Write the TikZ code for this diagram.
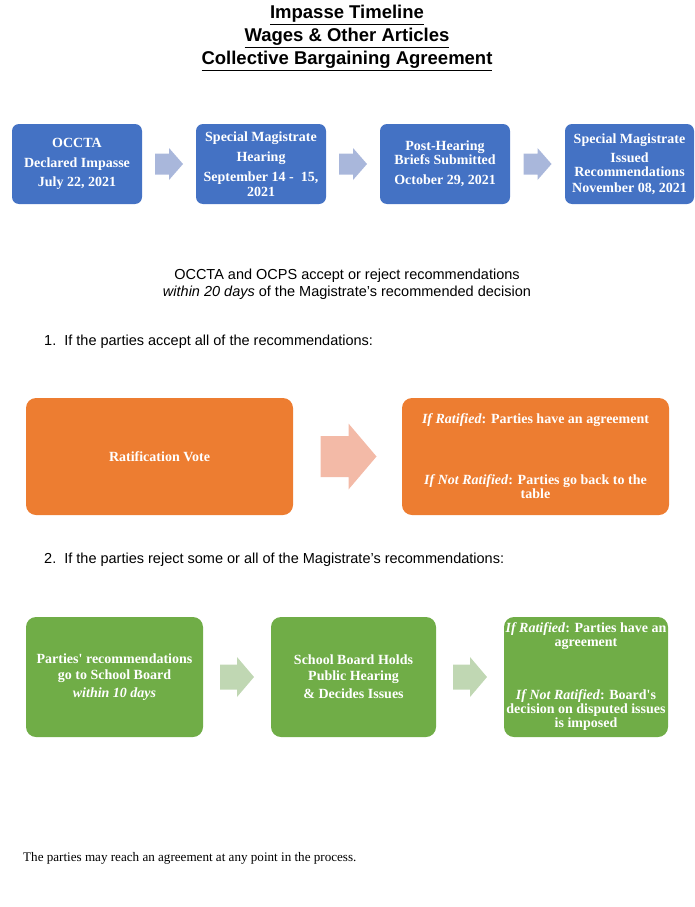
\documentclass[tikz,border=0pt]{standalone}
\usepackage{fontspec}
\setmainfont{Liberation Serif}
\newfontfamily\arialf{Liberation Sans}
\usetikzlibrary{calc}
\definecolor{oblue}{HTML}{4472C4}
\definecolor{oorange}{HTML}{ED7D31}
\definecolor{ogreen}{HTML}{70AD47}
\definecolor{lblue}{HTML}{A9B7DB}
\definecolor{lorange}{HTML}{F3BAA7}
\definecolor{lgreen}{HTML}{C0D7B3}
\begin{document}
\begin{tikzpicture}[x=1pt,y=-1pt,
  boxbase/.style={rounded corners=7pt, inner sep=0pt, align=center, text=white,
    font=\fontsize{14}{14}\selectfont\bfseries},
  bluebox/.style={boxbase, fill=oblue, minimum width=130pt, minimum height=80pt},
  orangebox/.style={boxbase, fill=oorange, rounded corners=10pt, minimum width=267pt, minimum height=117pt},
  greenbox/.style={boxbase, fill=ogreen, rounded corners=10pt, minimum height=120pt},
  titletext/.style={font=\arialf\fontsize{18.5}{18.5}\selectfont\bfseries, inner sep=0pt},
  bodytext/.style={font=\arialf\fontsize{14.5}{14.5}\selectfont, inner sep=0pt},
]
\useasboundingbox (0,0) rectangle (695,907);

% Titles
\node[titletext] (t1) at (347,15) {\underline{Impasse Timeline}};
\node[titletext] (t2) at (347,38) {\underline{Wages \& Other Articles}};
\node[titletext] (t3) at (347,61) {\underline{Collective Bargaining Agreement}};

% Timeline boxes
\node[bluebox] (b1) at (77,164) {OCCTA\\[5.5pt]Declared Impasse\\[5.5pt]July 22, 2021};
\node[bluebox] (b2) at (261,164) {Special Magistrate\\[6pt]Hearing\\[6pt]September 14 -\ \ 15,\\[1pt]2021};
\node[bluebox] (b3) at (445,164) {Post-Hearing\\Briefs Submitted\\[6pt]October 29, 2021};
\node[bluebox, minimum width=129pt] (b4) at (629.5,164) {Special Magistrate\\[5pt]Issued\\Recommendations\\[2pt]November 08, 2021};

% block arrows (timeline)
\foreach \a/\b in {b1/b2,b2/b3,b3/b4}{
  \coordinate (m) at ($(\a.east)!0.5!(\b.west)$);
  \fill[lblue] ($(m)+(-14,-10.5)$) -- ($(m)+(0,-10.5)$) -- ($(m)+(0,-16)$) -- ($(m)+(14,0)$)
     -- ($(m)+(0,16)$) -- ($(m)+(0,10.5)$) -- ($(m)+(-14,10.5)$) -- cycle;
}

% middle text
\node[bodytext] (mid1) at (347,276) {OCCTA and OCPS accept or reject recommendations};
\node[bodytext] (mid2) at (347,293) {\itshape within 20 days\upshape\ of the Magistrate’s recommended decision};

\node[bodytext, anchor=west] (item1) at (44,342) {1.\ \ If the parties accept all of the recommendations:};

% Orange row
\node[orangebox] (o1) at (159.5,456.5) {Ratification Vote};
\node[orangebox] (o2) at (535.5,456.5) {\textit{If Ratified}: Parties have an agreement\\[47pt]\textit{If Not Ratified}: Parties go back to the\\table};
\coordinate (om) at ($(o1.east)!0.5!(o2.west)$);
\fill[lorange] ($(om)+(-27,-20.5)$) -- ($(om)+(1,-20.5)$) -- ($(om)+(1,-33)$) -- ($(om)+(29,0)$)
   -- ($(om)+(1,33)$) -- ($(om)+(1,20.5)$) -- ($(om)+(-27,20.5)$) -- cycle;

\node[bodytext, anchor=west] (item2) at (44,560) {2.\ \ If the parties reject some or all of the Magistrate’s recommendations:};

% Green row
\node[greenbox, minimum width=177pt] (g1) at (114.5,677) {Parties\textquotesingle{} recommendations\\[2pt]go to School Board\\[4pt]\textit{within 10 days}};
\node[greenbox, minimum width=165pt] (g2) at (353.5,677) {School Board Holds\\[2pt]Public Hearing\\[4pt]\& Decides Issues};
\node[greenbox, minimum width=164pt] (g3) at (586,677) {\textit{If Ratified}: Parties have an\\agreement\\[39pt]\textit{If Not Ratified}: Board\textquotesingle s\\decision on disputed issues\\is imposed};
\foreach \a/\b in {g1/g2,g2/g3}{
  \coordinate (gm) at ($(\a.east)!0.5!(\b.west)$);
  \fill[lgreen] ($(gm)+(-17,-12.5)$) -- ($(gm)+(0,-12.5)$) -- ($(gm)+(0,-20)$) -- ($(gm)+(17,0)$)
     -- ($(gm)+(0,20)$) -- ($(gm)+(0,12.5)$) -- ($(gm)+(-17,12.5)$) -- cycle;
}

% footer
\node[font=\fontsize{13.1}{13.1}\selectfont, inner sep=0pt, anchor=west] (foot) at (23,858)
  {The parties may reach an agreement at any point in the process.};
\end{tikzpicture}
\end{document}
